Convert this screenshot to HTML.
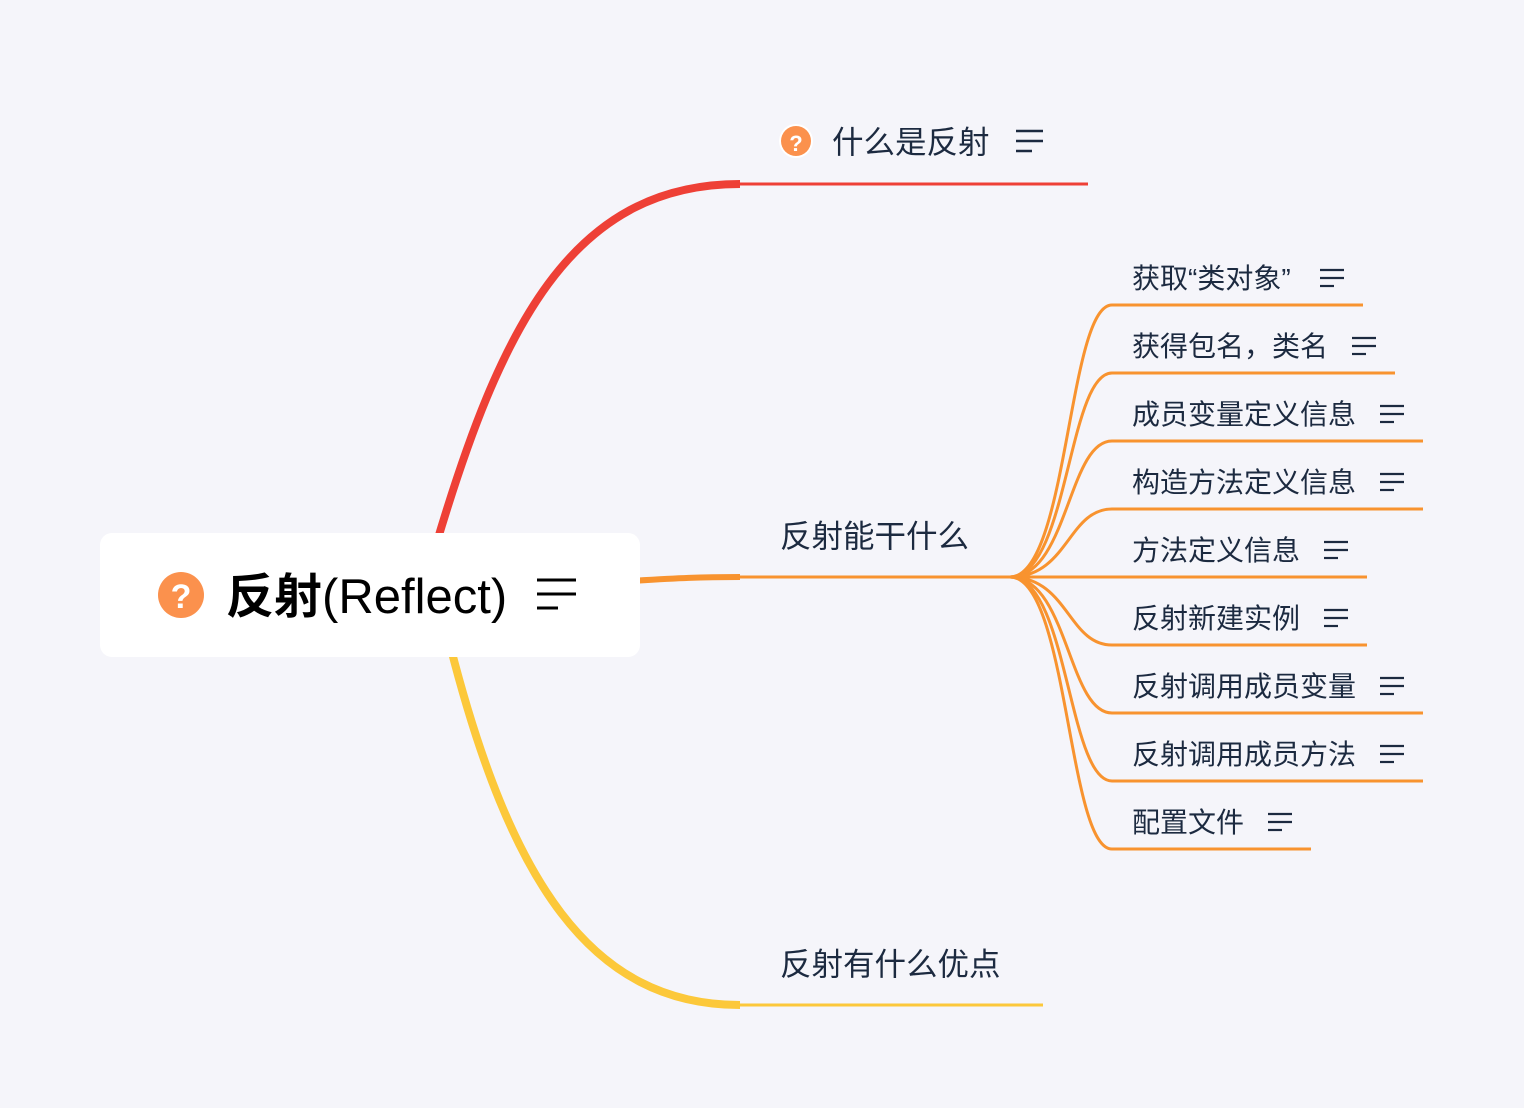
<!DOCTYPE html>
<html><head><meta charset="utf-8"><style>
html,body{margin:0;padding:0;background:#f5f5fa;}
svg{display:block}
text{font-family:"Liberation Sans","Noto Sans CJK SC",sans-serif;fill:#1c2a40}
</style></head><body>
<svg width="1524" height="1108" viewBox="0 0 1524 1108" xmlns="http://www.w3.org/2000/svg">
<rect width="1524" height="1108" fill="#f5f5fa"/>
<!-- main branches -->
<path d="M436,545 C500,330 570,184 740,184" stroke="#ee4036" stroke-width="8" fill="none"/>
<path d="M738,184 L1088,184" stroke="#ee4036" stroke-width="3" fill="none"/>
<path d="M450,645 C510,880 590,1005 740,1005" stroke="#fcc83a" stroke-width="8" fill="none"/>
<path d="M738,1005 L1043,1005" stroke="#fcc83a" stroke-width="3" fill="none"/>
<path d="M630,581 C680,578 700,577 740,577" stroke="#f8932f" stroke-width="6" fill="none"/>
<path d="M740,577 L1010,577" stroke="#f8932f" stroke-width="3" fill="none"/>
<!-- child branches -->
<g stroke="#f8932f" stroke-width="3" fill="none">
<path d="M1010,577 C1068,577 1068,305 1112,305 L1363,305"/>
<path d="M1010,577 C1068,577 1068,373 1112,373 L1395,373"/>
<path d="M1010,577 C1068,577 1068,441 1112,441 L1423,441"/>
<path d="M1010,577 C1068,577 1068,509 1112,509 L1423,509"/>
<path d="M1010,577 L1367,577"/>
<path d="M1010,577 C1068,577 1068,645 1112,645 L1367,645"/>
<path d="M1010,577 C1068,577 1068,713 1112,713 L1423,713"/>
<path d="M1010,577 C1068,577 1068,781 1112,781 L1423,781"/>
<path d="M1010,577 C1068,577 1068,849 1112,849 L1311,849"/>
</g>
<!-- root node -->
<rect x="100" y="533" width="540" height="124" rx="12" fill="#ffffff"/>
<circle cx="181" cy="595" r="23" fill="#fb914d"/>
<text x="181" y="608" text-anchor="middle" style="fill:#fff;font-weight:bold;font-size:34px">?</text>
<text x="226" y="613" style="fill:#000;font-size:48px"><tspan font-weight="bold">反射</tspan><tspan style="font-size:49px">(Reflect)</tspan></text>
<g stroke="#000" stroke-width="3"><line x1="537" y1="580" x2="576" y2="580"/><line x1="537" y1="594" x2="576" y2="594"/><line x1="537" y1="608" x2="558" y2="608"/></g>
<!-- level-1 labels -->
<circle cx="796" cy="141" r="17" fill="#fff"/>
<circle cx="796" cy="141" r="15" fill="#fb914d"/>
<text x="796" y="151" text-anchor="middle" style="fill:#fff;font-weight:bold;font-size:22px">?</text>
<text x="832" y="153" style="font-size:31.5px">什么是反射</text>
<g stroke="#1c2a40" stroke-width="2.5"><line x1="1016" y1="131" x2="1043" y2="131"/><line x1="1016" y1="141" x2="1043" y2="141"/><line x1="1016" y1="151" x2="1032" y2="151"/></g>
<text x="780" y="547" style="font-size:31.5px">反射能干什么</text>
<text x="780" y="975" style="font-size:31.5px">反射有什么优点</text>
<!-- children -->
<g style="font-size:28px">
<text x="1132" y="288">获取“类对象”</text>
<text x="1132" y="356">获得包名，类名</text>
<text x="1132" y="424">成员变量定义信息</text>
<text x="1132" y="492">构造方法定义信息</text>
<text x="1132" y="560">方法定义信息</text>
<text x="1132" y="628">反射新建实例</text>
<text x="1132" y="696">反射调用成员变量</text>
<text x="1132" y="764">反射调用成员方法</text>
<text x="1132" y="832">配置文件</text>
</g>
<g stroke="#1c2a40" stroke-width="2.2">
<g transform="translate(1320,270)"><line x1="0" y1="0" x2="24" y2="0"/><line x1="0" y1="8" x2="24" y2="8"/><line x1="0" y1="16" x2="14" y2="16"/></g>
<g transform="translate(1352,338)"><line x1="0" y1="0" x2="24" y2="0"/><line x1="0" y1="8" x2="24" y2="8"/><line x1="0" y1="16" x2="14" y2="16"/></g>
<g transform="translate(1380,406)"><line x1="0" y1="0" x2="24" y2="0"/><line x1="0" y1="8" x2="24" y2="8"/><line x1="0" y1="16" x2="14" y2="16"/></g>
<g transform="translate(1380,474)"><line x1="0" y1="0" x2="24" y2="0"/><line x1="0" y1="8" x2="24" y2="8"/><line x1="0" y1="16" x2="14" y2="16"/></g>
<g transform="translate(1324,542)"><line x1="0" y1="0" x2="24" y2="0"/><line x1="0" y1="8" x2="24" y2="8"/><line x1="0" y1="16" x2="14" y2="16"/></g>
<g transform="translate(1324,610)"><line x1="0" y1="0" x2="24" y2="0"/><line x1="0" y1="8" x2="24" y2="8"/><line x1="0" y1="16" x2="14" y2="16"/></g>
<g transform="translate(1380,678)"><line x1="0" y1="0" x2="24" y2="0"/><line x1="0" y1="8" x2="24" y2="8"/><line x1="0" y1="16" x2="14" y2="16"/></g>
<g transform="translate(1380,746)"><line x1="0" y1="0" x2="24" y2="0"/><line x1="0" y1="8" x2="24" y2="8"/><line x1="0" y1="16" x2="14" y2="16"/></g>
<g transform="translate(1268,814)"><line x1="0" y1="0" x2="24" y2="0"/><line x1="0" y1="8" x2="24" y2="8"/><line x1="0" y1="16" x2="14" y2="16"/></g>
</g>
</svg>
</body></html>
